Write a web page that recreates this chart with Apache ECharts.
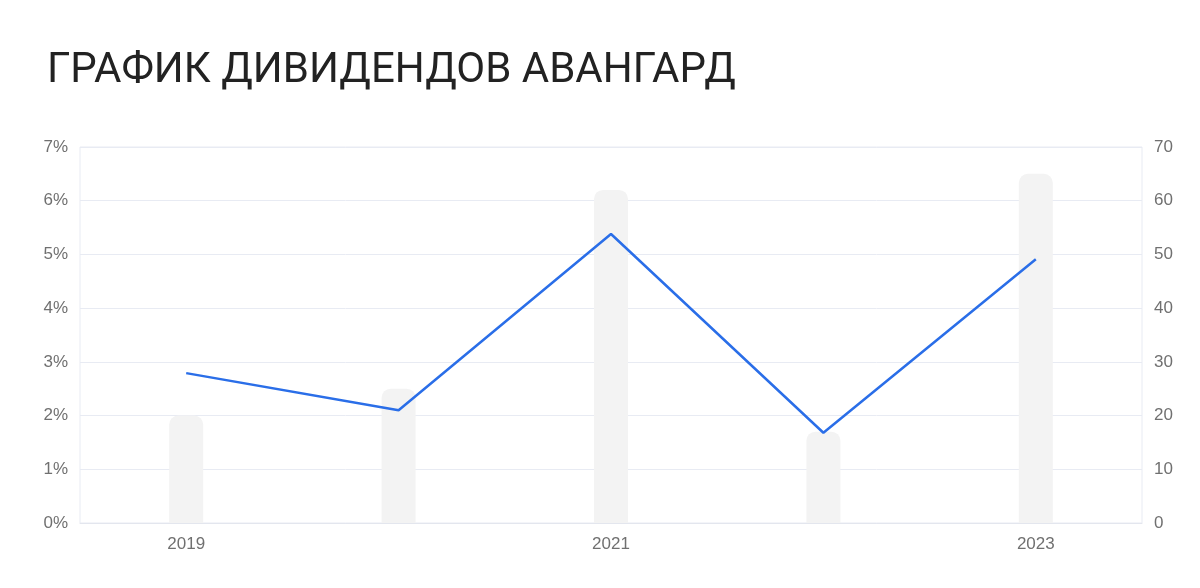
<!DOCTYPE html>
<html>
<head>
<meta charset="utf-8">
<script src="https://cdn.jsdelivr.net/npm/echarts@6/dist/echarts.min.js"></script>
<style>
  html, body { margin: 0; padding: 0; background: #fff; }
  #main { width: 1200px; height: 588px; }
</style>
</head>
<body>
<div id="main"></div>
<script>
// данные графика
var years = ['2019', '2020', '2021', '2022', '2023'];
var dividends = [20, 25, 62, 17, 65];          // правая ось, столбцы
var yields = [2.79, 2.10, 5.38, 1.68, 4.91];   // левая ось, %

var myChart = echarts.init(document.getElementById('main'));

var labelFont = 'Helvetica, Arial, sans-serif';

var option = {
    title: {
        text: 'ГРАФИК ДИВИДЕНДОВ АВАНГАРД',
        left: 42,
        top: 45,
        textStyle: {
            fontFamily: 'Roboto',
            fontSize: 42,
            fontWeight: 'normal',
            color: '#222222'
        }
    },
    grid: {
        left: 80,
        right: 58,
        top: 147,
        bottom: 65,
        show: true,
        borderColor: '#e8ebf3',
        borderWidth: 1
    },
    xAxis: {
        type: 'category',
        data: years,
        axisLine: { lineStyle: { color: '#e3e6ee' } },
        axisTick: { show: false },
        axisLabel: {
            interval: 1,
            color: '#707070',
            fontSize: 17,
            margin: 13,
            fontFamily: labelFont
        }
    },
    yAxis: [
        {
            type: 'value',
            min: 0,
            max: 7,
            interval: 1,
            axisLabel: {
                formatter: '{value}%',
                color: '#707070',
                fontSize: 17,
                margin: 12,
                fontFamily: labelFont
            },
            splitLine: { lineStyle: { color: '#e8ebf3' } }
        },
        {
            type: 'value',
            min: 0,
            max: 70,
            interval: 10,
            axisLabel: {
                color: '#707070',
                fontSize: 17,
                margin: 12,
                fontFamily: labelFont
            },
            splitLine: { show: false }
        }
    ],
    series: [
        {
            type: 'bar',
            yAxisIndex: 1,
            data: dividends,
            barWidth: 34,
            itemStyle: { color: '#f3f3f3', borderRadius: [9, 9, 0, 0] },
            silent: true
        },
        {
            type: 'line',
            yAxisIndex: 0,
            data: yields,
            symbol: 'none',
            lineStyle: { color: '#2a6ee8', width: 2.5 }
        }
    ]
};
myChart.setOption(option);
</script>
</body>
</html>
